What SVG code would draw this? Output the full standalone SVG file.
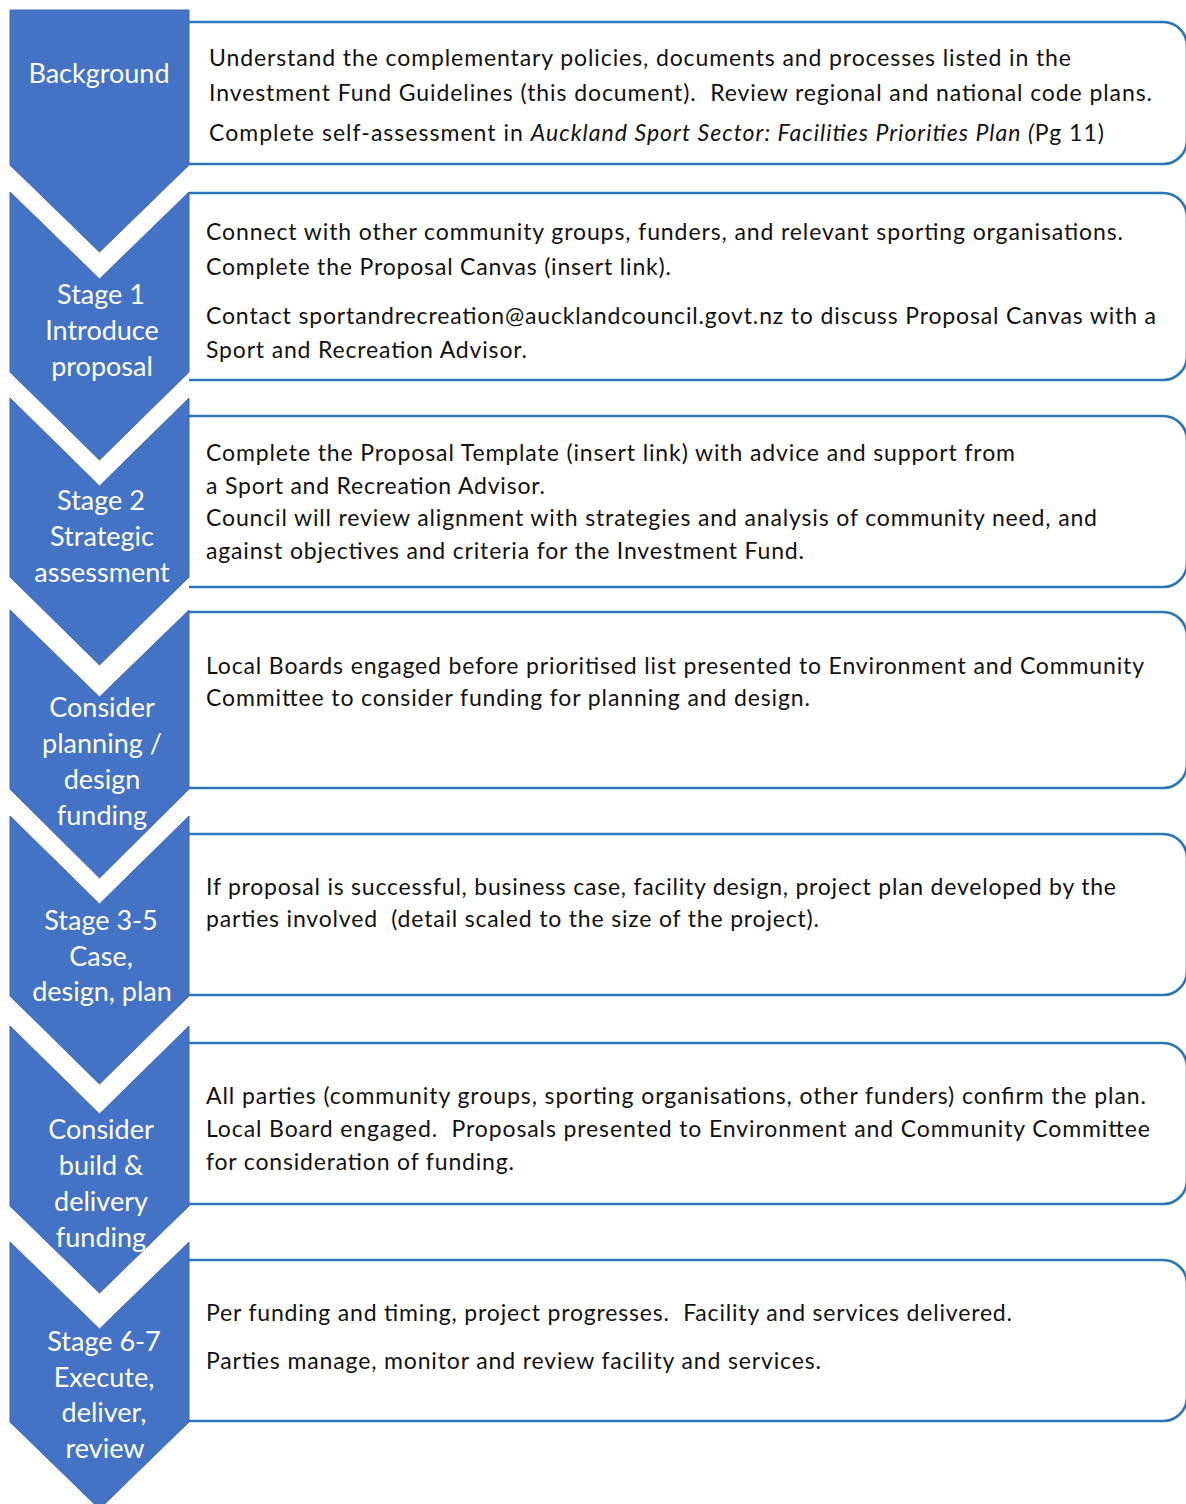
<svg xmlns="http://www.w3.org/2000/svg" width="1186" height="1504" viewBox="0 0 1186 1504">
  <style>
    .chev { fill: #4472C4; stroke: #3B67B4; stroke-width: 1; }
    .box { fill: #FFFFFF; stroke: #2E75B6; stroke-width: 2.6; }
    .lbl { font-family: Lato, "Open Sans", "Liberation Sans", sans-serif; font-size: 27px; fill: #FFFFFF; text-anchor: middle; }
    .txt { font-family: Lato, "Open Sans", "Liberation Sans", sans-serif; font-size: 23px; fill: #111111; }
    .it { font-style: italic; }
  </style>
  <rect x="0" y="0" width="1186" height="1504" fill="#FFFFFF"/>

  <!-- Background -->
  <g id="node-background">
    <path class="box" d="M189,22 H1163 A24,24 0 0 1 1187,46 V140 A24,24 0 0 1 1163,164 H189"/>
    <polygon class="chev" points="10,10 189,10 189,165 99.5,252 10,165"/>
    <text class="lbl" x="99" y="83">Background</text>
    <text class="txt" x="209" y="66" textLength="862">Understand the complementary policies, documents and processes listed in the</text>
    <text class="txt" x="209" y="101" textLength="943" xml:space="preserve">Investment Fund Guidelines (this document).  Review regional and national code plans.</text>
    <text class="txt" x="209" y="141" textLength="895">Complete self-assessment in <tspan class="it">Auckland Sport Sector: Facilities Priorities Plan (</tspan>Pg 11)</text>
  </g>

  <!-- Stage 1 -->
  <g id="node-stage1">
    <path class="box" d="M189,193 H1163 A24,24 0 0 1 1187,217 V356 A24,24 0 0 1 1163,380 H189"/>
    <polygon class="chev" points="10,192 99.5,279 189,192 189,372 99.5,460 10,372"/>
    <text class="lbl" x="101" y="304">Stage 1</text>
    <text class="lbl" x="102" y="340">Introduce</text>
    <text class="lbl" x="102" y="376">proposal</text>
    <text class="txt" x="206" y="240" textLength="917">Connect with other community groups, funders, and relevant sporting organisations.</text>
    <text class="txt" x="206" y="275" textLength="465">Complete the Proposal Canvas (insert link).</text>
    <text class="txt" x="206" y="324" textLength="950">Contact sportandrecreation@aucklandcouncil.govt.nz to discuss Proposal Canvas with a</text>
    <text class="txt" x="206" y="358" textLength="321">Sport and Recreation Advisor.</text>
  </g>

  <!-- Stage 2 -->
  <g id="node-stage2">
    <path class="box" d="M189,416 H1163 A24,24 0 0 1 1187,440 V563 A24,24 0 0 1 1163,587 H189"/>
    <polygon class="chev" points="10,398 99.5,486 189,398 189,577 99.5,665 10,577"/>
    <text class="lbl" x="101" y="510">Stage 2</text>
    <text class="lbl" x="102" y="546">Strategic</text>
    <text class="lbl" x="102" y="582">assessment</text>
    <text class="txt" x="206" y="461" textLength="809">Complete the Proposal Template (insert link) with advice and support from</text>
    <text class="txt" x="206" y="494" textLength="339">a Sport and Recreation Advisor.</text>
    <text class="txt" x="206" y="526" textLength="891">Council will review alignment with strategies and analysis of community need, and</text>
    <text class="txt" x="206" y="559" textLength="598">against objectives and criteria for the Investment Fund.</text>
  </g>

  <!-- Consider planning / design funding -->
  <g id="node-planning-funding">
    <path class="box" d="M189,612 H1163 A24,24 0 0 1 1187,636 V764 A24,24 0 0 1 1163,788 H189"/>
    <polygon class="chev" points="10,610 99.5,697 189,610 189,789 99.5,878 10,789"/>
    <text class="lbl" x="102" y="717">Consider</text>
    <text class="lbl" x="102" y="753">planning /</text>
    <text class="lbl" x="102" y="789">design</text>
    <text class="lbl" x="102" y="825">funding</text>
    <text class="txt" x="206" y="674" textLength="938">Local Boards engaged before prioritised list presented to Environment and Community</text>
    <text class="txt" x="206" y="706" textLength="604">Committee to consider funding for planning and design.</text>
  </g>

  <!-- Stage 3-5 -->
  <g id="node-stage3-5">
    <path class="box" d="M189,834 H1163 A24,24 0 0 1 1187,858 V971 A24,24 0 0 1 1163,995 H189"/>
    <polygon class="chev" points="10,816 99.5,904 189,816 189,996 99.5,1084 10,996"/>
    <text class="lbl" x="101" y="930">Stage 3-5</text>
    <text class="lbl" x="101" y="966">Case,</text>
    <text class="lbl" x="102" y="1001">design, plan</text>
    <text class="txt" x="206" y="895" textLength="910">If proposal is successful, business case, facility design, project plan developed by the</text>
    <text class="txt" x="206" y="927" textLength="613" xml:space="preserve">parties involved  (detail scaled to the size of the project).</text>
  </g>

  <!-- Consider build & delivery funding -->
  <g id="node-build-funding">
    <path class="box" d="M189,1043 H1163 A24,24 0 0 1 1187,1067 V1180 A24,24 0 0 1 1163,1204 H189"/>
    <polygon class="chev" points="10,1026 99.5,1114 189,1026 189,1206 99.5,1293 10,1206"/>
    <text class="lbl" x="101" y="1139">Consider</text>
    <text class="lbl" x="101" y="1175">build &amp;</text>
    <text class="lbl" x="101" y="1211">delivery</text>
    <text class="lbl" x="101" y="1247">funding</text>
    <text class="txt" x="206" y="1104" textLength="940">All parties (community groups, sporting organisations, other funders) confirm the plan.</text>
    <text class="txt" x="206" y="1137" textLength="944" xml:space="preserve">Local Board engaged.  Proposals presented to Environment and Community Committee</text>
    <text class="txt" x="206" y="1170" textLength="308">for consideration of funding.</text>
  </g>

  <!-- Stage 6-7 -->
  <g id="node-stage6-7">
    <path class="box" d="M189,1260 H1163 A24,24 0 0 1 1187,1284 V1397 A24,24 0 0 1 1163,1421 H189"/>
    <polygon class="chev" points="10,1242 99.5,1329 189,1242 189,1422 99.5,1509 10,1422"/>
    <text class="lbl" x="104" y="1351">Stage 6-7</text>
    <text class="lbl" x="104" y="1387">Execute,</text>
    <text class="lbl" x="104" y="1422">deliver,</text>
    <text class="lbl" x="105" y="1458">review</text>
    <text class="txt" x="206" y="1321" textLength="806" xml:space="preserve">Per funding and timing, project progresses.  Facility and services delivered.</text>
    <text class="txt" x="206" y="1369" textLength="615">Parties manage, monitor and review facility and services.</text>
  </g>

  <g id="connectors"/>
</svg>
